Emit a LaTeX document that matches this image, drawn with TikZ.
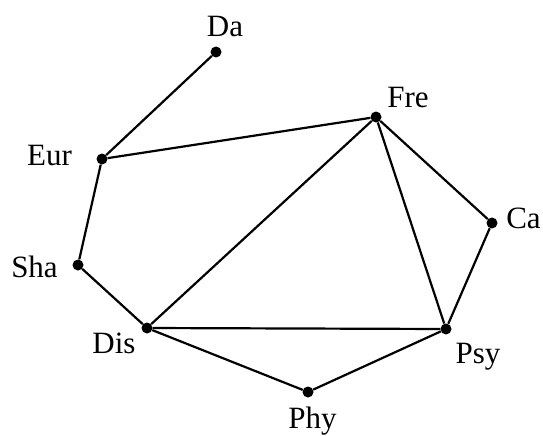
\documentclass[tikz,border=0pt]{standalone}
\usepackage{fontspec}
\setmainfont{Liberation Serif}
\begin{document}
\begin{tikzpicture}[x=1pt,y=-1pt,
  dot/.style={circle,fill=black,inner sep=0pt,minimum size=11pt},
  lbl/.style={anchor=base,inner sep=0pt,font=\fontsize{31}{31}\selectfont},
  edge/.style={line width=2.2pt}]
\useasboundingbox (0,0) rectangle (543,436);
\node[dot] (da) at (216,52) {};
\node[dot] (fre) at (376,117) {};
\node[dot] (eur) at (102,159) {};
\node[dot] (ca) at (492,223) {};
\node[dot] (sha) at (78,265) {};
\node[dot] (dis) at (147,328) {};
\node[dot] (psy) at (446,329) {};
\node[dot] (phy) at (308,392) {};
\node[lbl] (lda) at (225,37) {Da};
\node[lbl] (lfre) at (408,107) {Fre};
\node[lbl] (leur) at (49.5,165) {Eur};
\node[lbl] (lca) at (523.5,228) {Ca};
\node[lbl] (lsha) at (34.5,277) {Sha};
\node[lbl] (ldis) at (114,353) {Dis};
\node[lbl] (lpsy) at (478,363) {Psy};
\node[lbl] (lphy) at (312.5,428) {Phy};
\draw[edge] (da) -- (eur);
\draw[edge] (eur) -- (fre);
\draw[edge] (eur) -- (sha);
\draw[edge] (sha) -- (dis);
\draw[edge] (dis) -- (fre);
\draw[edge] (dis) -- (psy);
\draw[edge] (dis) -- (phy);
\draw[edge] (phy) -- (psy);
\draw[edge] (psy) -- (fre);
\draw[edge] (psy) -- (ca);
\draw[edge] (ca) -- (fre);
\end{tikzpicture}
\end{document}
